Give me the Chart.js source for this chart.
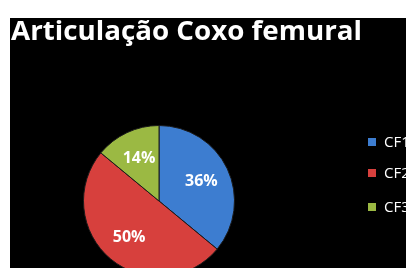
<!DOCTYPE html>
<html>
<head>
<meta charset="utf-8">
<script src="https://cdn.jsdelivr.net/npm/chart.js@4"></script>
<style>
  html, body { margin: 0; padding: 0; background: #fff; }
  #wrap { position: relative; width: 406px; height: 268px; overflow: hidden; }
  #wrap canvas { position: absolute; left: 0; top: 0; }
</style>
</head>
<body>
<div id="wrap"><canvas id="pie" width="406" height="300"></canvas></div>
<script>
const titleText = 'Articulação Coxo femural';
const categories = ['CF1', 'CF2', 'CF3'];
const values = [36, 50, 14];
const sliceColors = ['#3d7dd0', '#d7403d', '#9bb943'];

// black slide background + title + cut-off legend
const slideDecor = {
  id: 'slideDecor',
  beforeDraw(chart) {
    const ctx = chart.ctx;
    ctx.save();
    ctx.fillStyle = '#fff';
    ctx.fillRect(0, 0, chart.width, chart.height);
    ctx.fillStyle = '#000';
    ctx.fillRect(10, 18, chart.width - 10, chart.height - 18);
    ctx.restore();
  },
  afterDraw(chart) {
    const ctx = chart.ctx;
    ctx.save();
    ctx.fillStyle = '#fff';
    ctx.textBaseline = 'alphabetic';
    ctx.font = 'bold 27px "Open Sans", sans-serif';
    const w = ctx.measureText(titleText).width;
    ctx.save();
    ctx.translate(11, 40);
    ctx.scale(351 / w, 1);
    ctx.fillText(titleText, 0, 0);
    ctx.restore();

    ctx.font = '15px "Open Sans", sans-serif';
    ctx.textBaseline = 'middle';
    const ys = [142, 173, 207];
    categories.forEach((c, i) => {
      ctx.fillStyle = sliceColors[i];
      ctx.fillRect(368, ys[i] - 4, 8, 8);
      ctx.fillStyle = '#fff';
      ctx.fillText(c, 384, ys[i] + 1);
    });
    ctx.restore();
  }
};

// percentage labels inside slices
const sliceLabels = {
  id: 'sliceLabels',
  afterDatasetsDraw(chart) {
    const ctx = chart.ctx;
    const meta = chart.getDatasetMeta(0);
    const total = values.reduce((a, b) => a + b, 0);
    ctx.save();
    ctx.fillStyle = '#fff';
    ctx.font = 'bold 16px "Open Sans", sans-serif';
    ctx.textAlign = 'center';
    ctx.textBaseline = 'middle';
    meta.data.forEach((arc, i) => {
      const mid = (arc.startAngle + arc.endAngle) / 2;
      const r = arc.outerRadius * 0.62;
      const x = arc.x + Math.cos(mid) * r;
      const y = arc.y + Math.sin(mid) * r;
      ctx.fillText(Math.round(values[i] / total * 100) + '%', x, y);
    });
    ctx.restore();
  }
};

new Chart(document.getElementById('pie'), {
  type: 'pie',
  data: {
    labels: categories,
    datasets: [{
      data: values,
      backgroundColor: sliceColors,
      borderColor: '#1a1a1a',
      borderWidth: 1
    }]
  },
  options: {
    responsive: false,
    animation: false,
    layout: { padding: { left: 83, right: 171, top: 125, bottom: 23 } },
    plugins: {
      legend: { display: false },
      tooltip: { enabled: false }
    }
  },
  plugins: [slideDecor, sliceLabels]
});
</script>
</body>
</html>
